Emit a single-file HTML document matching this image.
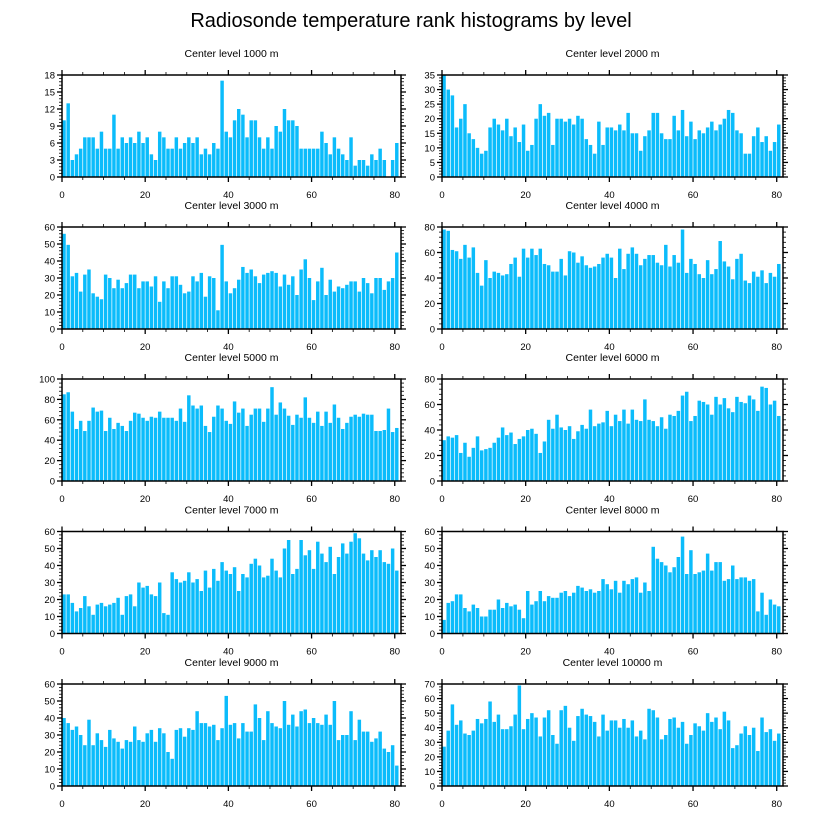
<!DOCTYPE html>
<html><head><meta charset="utf-8">
<style>
body{margin:0;background:#fff;}
svg{display:block;font-family:"Liberation Sans",Arial,sans-serif;}
</style></head>
<body>
<svg id="chart" width="822" height="824" viewBox="0 0 822 824" xmlns="http://www.w3.org/2000/svg">
<rect width="822" height="824" fill="#fff"/>
<text x="411" y="27" text-anchor="middle" font-size="20">Radiosonde temperature rank histograms by level</text>
</svg>
<script>
const levels = ["1000","2000","3000","4000","5000","6000","7000","8000","9000","10000"];
const yMaxes = [18,35,60,80,100,80,60,60,60,70];
const yStepsMajor = [3,5,10,20,20,20,10,10,10,10];
const xTickLabels = [0,20,40,60,80];
const v1000 = [10,13,3,4,5,7,7,7,5,8,5,5,11,5,7,6,7,6,8,6,7,4,3,8,7,5,5,7,5,6,7,6,7,4,5,4,6,5,17,8,7,10,12,11,7,10,10,7,5,7,5,9,8,12,10,10,9,5,5,5,5,5,8,6,4,7,5,4,3,7,2,3,3,2,4,3,5,3,0,3,6];
const v2000 = [35,30,28,17,20,25,15,13,10,8,9,17,20,18,16,20,14,17,12,18,9,11,20,25,21,22,11,20,20,19,20,18,21,20,13,11,8,19,11,17,17,16,18,16,22,15,15,9,14,16,22,22,15,13,13,21,16,23,14,19,13,16,15,17,19,16,18,20,23,22,16,15,8,8,14,17,12,14,9,12,18];
const v3000 = [56,49.5,31,33,22,32,35,21,19,17.5,32,30,24,29,24,27,32,32,24,28,28,25,31,16,28,24,31,31,26,21,22,31,28,33,19,31,30,11,49.5,28,21,24,29,36.5,33,35,31,27,32,33,34,33,25,32,26,31,20,35,41,30,17,28,36,20,29,22,25,24,26,28,28,22,30,27,21,30,30,23,28,30,45];
const v4000 = [78,77,62,61,55,66,56,64,44,34,54,40,45,44,42,43,51,56,41,63,56,63,58,63,51,50,45,45,55,42,61,60,52,57,50,48,49,51,56,59,56,40,63,47,59,64,59,50,55,58,58,52,50,66,49,58,52,78,44,55,51,43,40,54,43,47,69,53,49,39,55,59,38,36,45,41,46,36,44,41,51];
const v5000 = [85,87,68,51,59,49,59,72,68,69,49,62,51,57,54,49,59,67,66,62,59,63,62,68,62,62,62,59,71,58,84,74,71,74,54,48,63,74,71,59,56,78,67,71,54,65,71,71,58,71,92,65,77,71,64,55,65,62,82,62,57,68,54,68,57,75,62,51,57,63,65,63,66,65,65,49,49,50,71,48,52];
const v6000 = [32,35,34,36,22,30,19,26,35,24,25,26,30,34,42,36,38,29,33,35,40,41,37,22,31,48,41,52,42,40,43,33,39,44,41,56,43,45,46,55,43,52,47,56,45,56,48,47,64,48,47,43,50,41,52,51,55,67,70,47,51,63,62,60,52,66,60,65,57,54,66,62,61,67,64,55,74,73,60,63,51];
const v7000 = [23,23,18,13,15,22,16,11,17,18,16,17,18,21,11,22,23,16,30,27,28,23,22,30,12,11,36,32,30,31,36,30,32,25,37,27,38,31,42,37,35,39,25,35,33,41,44,40,33,34,44,37,33,50,55,35,38,55,46,49,38,54,47,42,51,35,45,53,47,54,59,56,47,43,49,45,49,42,41,50,37];
const v8000 = [8,18,19,23,23,15,13,17,15,10,10,14,14,20,15,18,16,17,14,9,25,17,19,25,19,22,21,21,24,25,22,24,28,27,25,26,24,25,32,29,26,31,24,31,29,32,33,24,30,25,51,44,42,40,36,39,45,57,35,49,35,36,37,47,37,42,42,31,32,40,32,33,33,31,32,13,24,11,20,17,16];
const v9000 = [40,37,33,35,30,24,39,24,31,27,23,33,28,26,22,27,26,35,27,26,31,33,26,34,31,20,16,33,34,29,34,33,44,37,37,35,36,27,34,53,36,37,28,37,32,32,48,40,27,44,37,35,34,50,36,42,35,44,45,37,40,37,36,42,36,50,27,30,30,44,27,39,32,32,26,28,32,22,20,24,12];
const v10000 = [27,38,56,42,45,36,35,38,46,43,46,58,44,49,39,39,41,49,69,39,46,50,47,34,47,52,35,29,52,55,40,31,48,53,49,48,44,34,49,38,45,45,40,46,40,45,34,38,32,53,52,47,32,35,46,47,40,44,29,35,43,41,38,50,44,47,39,51,45,26,28,36,41,35,40,24,47,37,39,31,36];
const allSeries = [v1000,v2000,v3000,v4000,v5000,v6000,v7000,v8000,v9000,v10000];

const NS = "http://www.w3.org/2000/svg";
const svg = document.getElementById("chart");
const X_MAX = 81.5;
const colsX = [[62,401],[442,783]];
const rowsY = [75,227,379,531.5,684];
const PH = 102;
function mk(tag, attrs, parent){const e=document.createElementNS(NS,tag);for(const k in attrs)e.setAttribute(k,attrs[k]);(parent||svg).appendChild(e);return e;}

allSeries.forEach((vals, p) => {
  const col = p % 2, row = Math.floor(p/2);
  const x0 = colsX[col][0], x1 = colsX[col][1];
  const y0 = rowsY[row], y1 = y0 + PH;
  const yMax = yMaxes[p], step = yStepsMajor[p];
  const xs = v => x0 + (v / X_MAX) * (x1 - x0);
  const ys = v => y1 - (v / yMax) * (y1 - y0);
  const g = mk("g", {});
  
  
  const t = mk("text", {x:(x0+x1)/2, y:y0-18, "text-anchor":"middle", "font-size":"10.5"}, g);
  
  
  t.textContent = "Center level " + levels[p] + " m";
  vals.forEach((v, i) => {
    const bx = xs(i), bw = xs(i+1) - xs(i);
    const r = mk("rect", {x:bx+0.3, y:ys(v), width:Math.max(bw-0.7,0.5), height:Math.max(y1-ys(v),0), fill:"#0bbcfb"}, g);
    
    
  });
  const minor = step/5;
  for (let k=0; k*minor <= yMax+1e-9; k++){
    const v = k*minor, yy = ys(v), isMaj = (k%5===0);
    const len = isMaj ? 5 : 3;
    mk("line",{x1:x0,x2:x0-len,y1:yy,y2:yy,stroke:"#000","stroke-width":isMaj?1.3:0.8},g);
    mk("line",{x1:x1,x2:x1+len,y1:yy,y2:yy,stroke:"#000","stroke-width":isMaj?1.3:0.8},g);
    if(isMaj){
      const lt = mk("text",{x:x0-7,y:yy+3.5,"text-anchor":"end","font-size":"9.5"},g);
      
      
      lt.textContent = String(v);
    }
  }
  for (let v=0; v<=X_MAX; v+=5){
    const xx = xs(v), isMaj = (v%20===0), len = isMaj?5:3;
    mk("line",{x1:xx,x2:xx,y1:y1,y2:y1+len,stroke:"#000","stroke-width":isMaj?1.3:0.8},g);
    mk("line",{x1:xx,x2:xx,y1:y0,y2:y0-len,stroke:"#000","stroke-width":isMaj?1.3:0.8},g);
  }
  xTickLabels.forEach(v => {
    const lt = mk("text",{x:xs(v),y:y1+21,"text-anchor":"middle","font-size":"9.5"},g);
    
    
    lt.textContent = String(v);
  });
  const fr = mk("rect",{x:x0,y:y0,width:x1-x0,height:y1-y0,fill:"none",stroke:"#000","stroke-width":1.5},g);
  
  
});
</script>
</body></html>
